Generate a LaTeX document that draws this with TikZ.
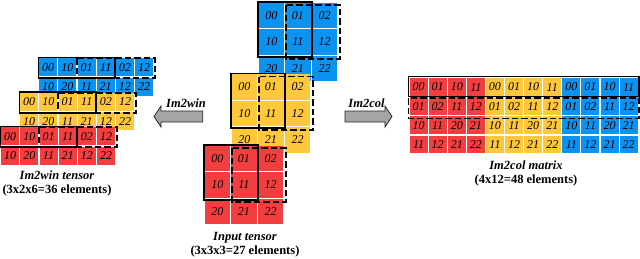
\documentclass[tikz,border=0pt]{standalone}
\usepackage{fontspec}
\setmainfont{Liberation Serif}
\definecolor{cred}{RGB}{242,62,62}
\definecolor{cyel}{RGB}{255,200,60}
\definecolor{cblu}{RGB}{12,146,240}
\definecolor{arrgray}{RGB}{165,165,165}
\tikzset{
  cellbase/.style={inner sep=0pt, outer sep=0pt, font=\fontsize{12}{12}\selectfont\itshape, text=black},
  bigcell/.style={cellbase, minimum width=25.4pt, minimum height=25.4pt},
  smallcell/.style={cellbase, minimum width=18pt, minimum height=18.3pt},
  colcell/.style={cellbase, minimum width=18pt, minimum height=17.6pt},
  solidbox/.style={draw=black, line width=1.8pt},
  dashbox/.style={draw=black, line width=1.8pt, dash pattern=on 6.5pt off 3pt},
  titletext/.style={font=\fontsize{12.5}{13}\selectfont\bfseries\itshape, anchor=base, inner sep=0pt},
  subtext/.style={font=\fontsize{12.5}{13}\selectfont\bfseries, anchor=base, inner sep=0pt},
  blockarrow/.style={fill=arrgray, draw=black!85, line width=0.8pt},
}
% input tensor layer: #1 colour, #2 x0, #3 y0, #4 tag
\newcommand\inlayer[4]{%
  \foreach \r in {0,1,2}{\foreach \c in {0,1,2}{
    \node[bigcell, fill=#1] (in#4\r\c) at ({#2+(\c+0.5)*26.6},{#3+(\r+0.5)*26.6}) {\r\c};
  }}
  \draw[solidbox] (#2,#3) rectangle ({#2+2*26.6+1},{#3+2*26.6+1.5});
  \draw[dashbox] ({#2+26.6+1},{#3+3}) rectangle ({#2+3*26.6+2.5},{#3+2*26.6+3.5});
}
% im2win layer: #1 colour, #2 x0, #3 y0, #4 tag
\newcommand\winlayer[4]{%
  \foreach \lab [count=\i from 0] in {00,10,01,11,02,12}{
    \node[smallcell, fill=#1] (win#4a\i) at ({#2+(\i+0.5)*19.2},{#3+9.75}) {\lab};}
  \foreach \lab [count=\i from 0] in {10,20,11,21,12,22}{
    \node[smallcell, fill=#1] (win#4b\i) at ({#2+(\i+0.5)*19.2},{#3+29.25}) {\lab};}
  \draw[solidbox] (#2,#3) rectangle ({#2+4*19.2},{#3+20.8});
  \draw[dashbox] ({#2+2*19.2},{#3+0.8}) rectangle ({#2+6*19.2+1.5},{#3+20.8});
}
% im2col column group: #1 colour, #2 first column, #3 tag
\newcommand\colgroup[3]{%
  \foreach \lab [count=\i from 0] in {00,01,10,11}{
    \node[colcell, fill=#1] (col#3a\i) at ({409+(#2+\i+0.5)*19.1},{77.5+0.5*19.1}) {\lab};}
  \foreach \lab [count=\i from 0] in {01,02,11,12}{
    \node[colcell, fill=#1] (col#3b\i) at ({409+(#2+\i+0.5)*19.1},{77.5+1.5*19.1}) {\lab};}
  \foreach \lab [count=\i from 0] in {10,11,20,21}{
    \node[colcell, fill=#1] (col#3c\i) at ({409+(#2+\i+0.5)*19.1},{77.5+2.5*19.1}) {\lab};}
  \foreach \lab [count=\i from 0] in {11,12,21,22}{
    \node[colcell, fill=#1] (col#3d\i) at ({409+(#2+\i+0.5)*19.1},{77.5+3.5*19.1}) {\lab};}
}
\begin{document}
\begin{tikzpicture}[x=1pt,y=-1pt]
\useasboundingbox (0,0) rectangle (640,258);

% Input tensor
\inlayer{cblu}{258}{2}{b}
\inlayer{cyel}{231}{73.5}{y}
\inlayer{cred}{204}{145}{r}
\node[titletext] (intitle) at (245,240) {Input tensor};
\node[subtext] (insub) at (245,254) {(3x3x3=27 elements)};

% Im2win tensor
\winlayer{cblu}{38.5}{57.5}{b}
\winlayer{cyel}{19.5}{92}{y}
\winlayer{cred}{0.5}{126.5}{r}
\node[titletext] (wintitle) at (57,179.5) {Im2win tensor};
\node[subtext] (winsub) at (57,193) {(3x2x6=36 elements)};

% Im2col matrix
\colgroup{cred}{0}{r}
\colgroup{cyel}{4}{y}
\colgroup{cblu}{8}{b}
\draw[solidbox] (408.5,76.5) rectangle (639,96.5);
\draw[dashbox] (408.5,98) rectangle (639.3,118.5);
\node[titletext] (coltitle) at (526,169) {Im2col matrix};
\node[subtext] (colsub) at (526,183) {(4x12=48 elements)};

% arrows
\draw[blockarrow] (202.7,111) -- (161,111) -- (161,106) -- (154,116.5) -- (161,127) -- (161,122) -- (202.7,122) -- cycle;
\node[titletext] (winlab) at (186,107) {Im2win};
\draw[blockarrow] (345,111) -- (385,111) -- (385,106) -- (392,116.5) -- (385,127) -- (385,122) -- (345,122) -- cycle;
\node[titletext] (collab) at (366.5,107) {Im2col};
\end{tikzpicture}
\end{document}
